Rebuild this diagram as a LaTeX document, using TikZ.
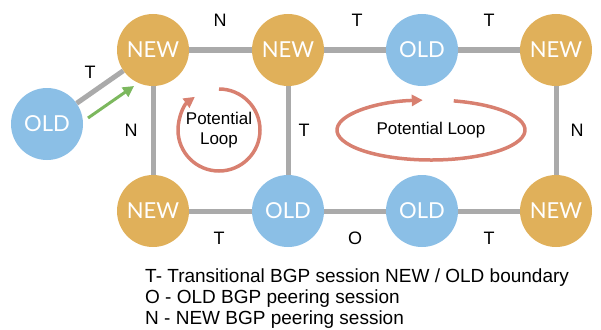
\documentclass[tikz,border=0pt]{standalone}
\usepackage{fontspec}
\setmainfont{Liberation Sans}
\newfontfamily\nodefont{Lato}
\usetikzlibrary{arrows.meta}

\definecolor{newcol}{RGB}{224,176,90}
\definecolor{oldcol}{RGB}{139,191,230}
\definecolor{linkcol}{RGB}{170,170,170}
\definecolor{loopcol}{RGB}{216,128,112}
\definecolor{movecol}{RGB}{124,184,94}

\tikzset{
  router/.style={circle, minimum size=72pt, inner sep=0pt, text=white,
    font=\nodefont\fontsize{22}{22}\selectfont},
  newr/.style={router, fill=newcol},
  oldr/.style={router, fill=oldcol},
  link/.style={draw=linkcol, line width=5pt},
  lab/.style={font=\fontsize{18}{18}\selectfont, inner sep=0pt},
  loopline/.style={draw=loopcol, line width=3.5pt, -{Triangle[length=11pt,width=11pt]}},
  legend/.style={anchor=west, inner sep=0pt, font=\fontsize{19}{19}\selectfont}
}

\begin{document}
\begin{tikzpicture}[x=1pt,y=1pt,yscale=-1,xscale=1]
\useasboundingbox (0,0) rectangle (601,329);

% routers, top row
\node[newr] (n1) at (153,50) {NEW};
\node[newr] (n2) at (288,50) {NEW};
\node[oldr] (o1) at (422,50) {OLD};
\node[newr] (n3) at (556,50) {NEW};
% routers, bottom row
\node[newr] (n4) at (153,211) {NEW};
\node[oldr] (o2) at (288,211) {OLD};
\node[oldr] (o3) at (422,211) {OLD};
\node[newr] (n5) at (556,211) {NEW};
% router on the left
\node[oldr] (o0) at (47,124) {OLD};

% sessions
\draw[link] (o0) -- (n1);
\draw[link] (n1) -- (n2);
\draw[link] (n2) -- (o1);
\draw[link] (o1) -- (n3);
\draw[link] (n1) -- (n4);
\draw[link] (n2) -- (o2);
\draw[link] (n3) -- (n5);
\draw[link] (n4) -- (o2);
\draw[link] (o2) -- (o3);
\draw[link] (o3) -- (n5);

% session labels
\node[lab] (lt0) at (90,72) {T};
\node[lab] (ln1) at (220,20) {N};
\node[lab] (lt1) at (357,20) {T};
\node[lab] (lt2) at (489,20) {T};
\node[lab] (ln2) at (131,130) {N};
\node[lab] (lt3) at (304,130) {T};
\node[lab] (ln3) at (577,130) {N};
\node[lab] (lt4) at (219,238) {T};
\node[lab] (lo1) at (355,238) {O};
\node[lab] (lt5) at (489,238) {T};

% move towards the new router
\coordinate (ga) at (88,118);
\coordinate (gb) at (134,86);
\draw[draw=movecol, line width=3pt, -{Triangle[length=11pt,width=11pt]}] (ga) -- (gb);

% potential loops
\node[align=center, font=\fontsize{17}{20}\selectfont] (loopa) at (219,130) {Potential\\Loop};
\draw[loopline] ([shift={(-90:41)}]loopa.center) arc[start angle=-90, end angle=234, radius=41];
\node[font=\fontsize{17}{17}\selectfont] (loopb) at (431,130) {Potential Loop};
\draw[loopline] ([shift={(-76:94 and 30)}]loopb.center) arc[start angle=-76, end angle=265, x radius=94, y radius=30];

% legend
\node[legend] (leg1) at (145,278) {T- Transitional BGP session NEW / OLD boundary};
\node[legend] (leg2) at (145,299) {O - OLD BGP peering session};
\node[legend] (leg3) at (145,320) {N - NEW BGP peering session};

\end{tikzpicture}
\end{document}
